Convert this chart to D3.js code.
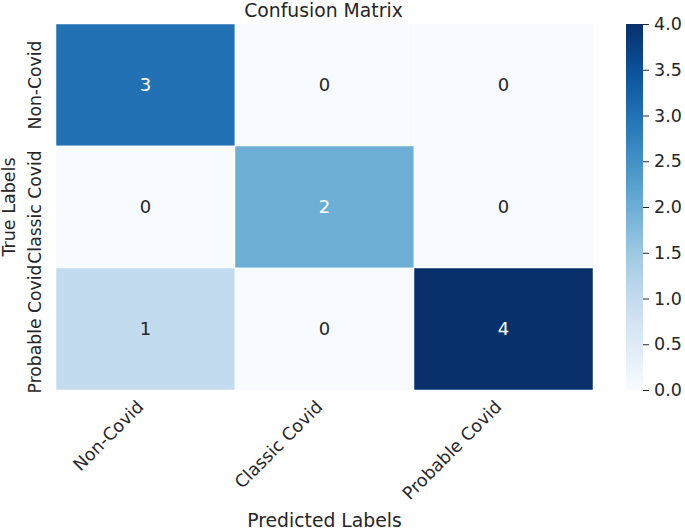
<!DOCTYPE html>
<html>
<head>
<meta charset="utf-8">
<script src="https://cdn.jsdelivr.net/npm/d3@7"></script>
<style>
  body { margin: 0; background: #fff; }
  text { font-family: "DejaVu Sans", sans-serif; fill: #262626; }
</style>
</head>
<body>
<div id="chart-area"></div>
<script>
// data
var trueLabels = ["Non-Covid", "Classic Covid", "Probable Covid"];
var predLabels = ["Non-Covid", "Classic Covid", "Probable Covid"];
var counts = [
    [3, 0, 0],
    [0, 2, 0],
    [1, 0, 4]
];
var cbarTicks = [0, 0.5, 1, 1.5, 2, 2.5, 3, 3.5, 4];

var W = 685, H = 531;
var hm = { left: 56, top: 24, width: 537, height: 366 };
var cb = { left: 626, width: 17 };

var svg = d3.select("#chart-area")
    .append("svg")
        .attr("width", W)
        .attr("height", H);

// Scales
var x = d3.scaleBand().domain(predLabels).range([hm.left, hm.left + hm.width]);
var y = d3.scaleBand().domain(trueLabels).range([hm.top, hm.top + hm.height]);
var color = d3.scaleSequential(d3.interpolateBlues).domain([0, 4]);

var cells = [];
counts.forEach(function(row, i){
    row.forEach(function(v, j){
        cells.push({ t: trueLabels[i], p: predLabels[j], v: v });
    });
});

svg.selectAll("rect.cell").data(cells)
    .enter().append("rect")
        .attr("class", "cell")
        .attr("x", function(d){ return x(d.p); })
        .attr("y", function(d){ return y(d.t); })
        .attr("width", x.bandwidth())
        .attr("height", y.bandwidth())
        .attr("fill", function(d){ return color(d.v); })
        .attr("stroke", "#ffffff")
        .attr("stroke-width", 0.5);

svg.selectAll("text.annot").data(cells)
    .enter().append("text")
        .attr("class", "annot")
        .attr("x", function(d){ return x(d.p) + x.bandwidth() / 2; })
        .attr("y", function(d){ return y(d.t) + y.bandwidth() / 2; })
        .attr("dy", "0.36em")
        .attr("text-anchor", "middle")
        .attr("font-size", "18px")
        .style("fill", function(d){ return d.v >= 2 ? "#ffffff" : "#262626"; })
        .text(function(d){ return d.v; });

// x tick labels
svg.selectAll("text.xtick").data(predLabels)
    .enter().append("text")
        .attr("class", "xtick")
        .attr("font-size", "17.5px")
        .attr("text-anchor", "end")
        .attr("transform", function(d){
            return "translate(" + (x(d) + x.bandwidth() / 2 - 1) + "," + (hm.top + hm.height + 18) + ") rotate(-45)";
        })
        .text(function(d){ return d; });

// y tick labels
svg.selectAll("text.ytick").data(trueLabels)
    .enter().append("text")
        .attr("class", "ytick")
        .attr("font-size", "17.2px")
        .attr("text-anchor", "middle")
        .attr("transform", function(d){
            return "translate(41," + (y(d) + y.bandwidth() / 2) + ") rotate(-90)";
        })
        .text(function(d){ return d; });

// Labels
svg.append("text")
    .attr("x", hm.left + hm.width / 2 - 1)
    .attr("y", 17)
    .attr("font-size", "18.8px")
    .attr("text-anchor", "middle")
    .text("Confusion Matrix");

svg.append("text")
    .attr("x", hm.left + hm.width / 2)
    .attr("y", 527)
    .attr("font-size", "18.8px")
    .attr("text-anchor", "middle")
    .text("Predicted Labels");

svg.append("text")
    .attr("transform", "translate(15," + (hm.top + hm.height / 2) + ") rotate(-90)")
    .attr("font-size", "17.5px")
    .attr("text-anchor", "middle")
    .text("True Labels");

// colorbar
var cy = d3.scaleLinear().domain([0, 4]).range([hm.top + hm.height, hm.top]);
var defs = svg.append("defs");
var grad = defs.append("linearGradient")
    .attr("id", "cbgrad")
    .attr("x1", "0").attr("y1", "1").attr("x2", "0").attr("y2", "0");
d3.range(0, 1.0001, 0.05).forEach(function(t){
    grad.append("stop")
        .attr("offset", t)
        .attr("stop-color", d3.interpolateBlues(t));
});
svg.append("rect")
    .attr("x", cb.left)
    .attr("y", cy(4))
    .attr("width", cb.width)
    .attr("height", cy(0) - cy(4))
    .attr("fill", "url(#cbgrad)");

var cbAxis = d3.axisRight(cy)
    .tickValues(cbarTicks)
    .tickSize(6)
    .tickPadding(5)
    .tickFormat(d3.format(".1f"));

var cbG = svg.append("g")
    .attr("transform", "translate(" + (cb.left + cb.width) + ",0)")
    .call(cbAxis);
cbG.select(".domain").remove();
cbG.selectAll("line").attr("stroke", "#262626").attr("stroke-width", 1);
cbG.selectAll("text")
    .attr("font-size", "17.5px")
    .attr("font-family", "DejaVu Sans, sans-serif")
    .style("fill", "#262626");
</script>
</body>
</html>
